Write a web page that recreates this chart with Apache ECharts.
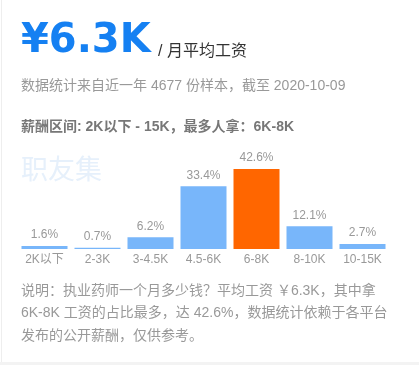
<!DOCTYPE html>
<html>
<head>
<meta charset="utf-8">
<script src="https://cdn.jsdelivr.net/npm/echarts@6/dist/echarts.min.js"></script>
<style>
html,body{margin:0;padding:0;background:#fff;}
#c{width:419px;height:365px;}
</style>
</head>
<body>
<div id="c"></div>
<script>
var categories = ['2K以下', '2-3K', '3-4.5K', '4.5-6K', '6-8K', '8-10K', '10-15K'];
var values = [1.6, 0.7, 6.2, 33.4, 42.6, 12.1, 2.7];
var highlightIndex = 4;
var headline = '¥6.3K';
var headlineUnit = '/ 月平均工资';
var subtitle = '数据统计来自近一年 4677 份样本，截至 2020-10-09';
var rangeText = '薪酬区间: 2K以下 - 15K，最多人拿：6K-8K';
var watermark = '职友集';
var noteLines = [
  '说明：执业药师一个月多少钱？平均工资 ￥6.3K，其中拿',
  '6K-8K 工资的占比最多，达 42.6%，数据统计依赖于各平台',
  '发布的公开薪酬，仅供参考。'
];

var FONT = '"Liberation Sans", Arial, "Noto Sans CJK SC", sans-serif';
var chart = echarts.init(document.getElementById('c'), null, {renderer: 'canvas'});

var graphics = [
  {type: 'rect', shape: {x: 0, y: 362, width: 419, height: 3}, style: {fill: '#f3f3f3'}, silent: true},
  {type: 'rect', shape: {x: 1, y: 0, width: 1, height: 362}, style: {fill: '#eeeeee'}, silent: true},
  {type: 'text', x: 21, y: 22, style: {text: headline, font: 'bold 40px "DejaVu Sans", sans-serif', fill: '#1580f2', textVerticalAlign: 'top'}},
  {type: 'text', x: 158, y: 44, style: {text: headlineUnit, font: '16px ' + FONT, fill: '#333333', textVerticalAlign: 'top'}},
  {type: 'text', x: 21, y: 79, style: {text: subtitle, font: '14px ' + FONT, fill: '#999999', textVerticalAlign: 'top'}},
  {type: 'text', x: 21, y: 120, style: {text: rangeText, font: 'bold 14px ' + FONT, fill: '#777777', textVerticalAlign: 'top'}},
  {type: 'text', x: 21, y: 158, z: -1, style: {text: watermark, font: '27px ' + FONT, fill: '#e6f0fb', textVerticalAlign: 'top'}}
];
noteLines.forEach(function (t, i) {
  graphics.push({type: 'text', x: 21, y: 284 + i * 22.5, style: {text: t, font: '14px ' + FONT, fill: '#999999', textVerticalAlign: 'top'}});
});

chart.setOption({
  animation: false,
  grid: {left: 18, width: 371, top: 155, bottom: 116},
  xAxis: {
    type: 'category',
    data: categories,
    axisLine: {show: false},
    axisTick: {show: false},
    axisLabel: {color: '#999999', fontSize: 12, margin: 5, fontFamily: FONT, interval: 0}
  },
  yAxis: {type: 'value', min: 0, max: 50, show: false, splitLine: {show: false}},
  series: [{
    type: 'bar',
    barWidth: 46,
    data: values.map(function (v, i) {
      return {value: v, itemStyle: {color: i === highlightIndex ? '#ff6600' : '#78b6fa'}};
    }),
    label: {show: true, position: 'top', distance: 5, color: '#999999', fontSize: 12, fontFamily: FONT,
      formatter: function (p) { return p.value.toFixed(1) + '%'; }}
  }],
  graphic: graphics
});
</script>
</body>
</html>
